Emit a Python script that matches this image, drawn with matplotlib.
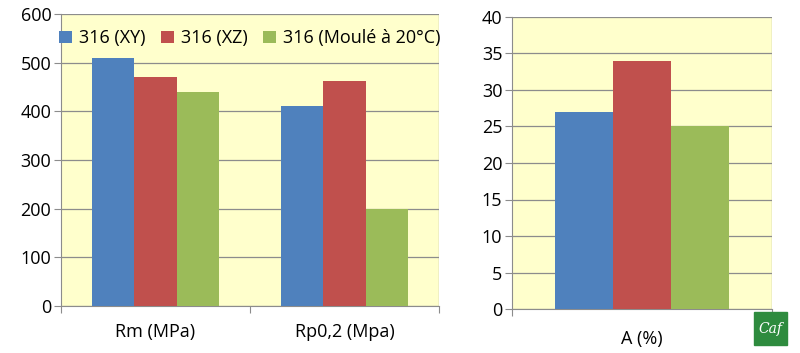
import numpy as np
import matplotlib
matplotlib.use("Agg")
import matplotlib.pyplot as plt
from matplotlib.patches import Rectangle

plt.rcParams['font.family'] = ['Open Sans', 'DejaVu Sans']

# data
series = ['316 (XY)', '316 (XZ)', '316 (Moulé à 20°C)']
colors = ['#4F81BD', '#C0504D', '#9BBB59']
left_cats = ['Rm (MPa)', 'Rp0,2 (Mpa)']
left_vals = [[510, 410], [470, 462], [440, 200]]
right_cats = ['A (%)']
right_vals = [[27], [34], [25]]

bg = '#FFFFCC'
grid_c = '#8C8C8C'
fs = 13

fig = plt.figure(figsize=(8, 3.53), dpi=100)
W, H = 800, 353


def px_axes(x0, x1, y0, y1):
    return fig.add_axes([x0 / W, 1 - y1 / H, (x1 - x0) / W, (y1 - y0) / H])


def draw(ax, cats, vals, ymax, step, xpad):
    n = len(cats)
    x = np.arange(n)
    w = 0.667 / len(vals)
    for i, v in enumerate(vals):
        ax.bar(x + (i - 1) * w, v, width=w, color=colors[i], label=series[i],
               zorder=3)
    ax.set_facecolor(bg)
    ax.set_xlim(-0.5, n - 0.5)
    ax.set_ylim(0, ymax)
    ax.set_yticks(np.arange(0, ymax + 1, step))
    ax.yaxis.grid(True, color=grid_c, linewidth=0.9, zorder=1)
    ax.set_xticks(np.arange(-0.5, n, 1.0))
    ax.set_xticklabels([])
    ax.set_xticks(x, minor=True)
    ax.set_xticklabels(cats, minor=True)
    ax.tick_params(axis='x', which='minor', length=0, pad=xpad, labelsize=fs)
    ax.tick_params(axis='x', which='major', length=5, color=grid_c)
    ax.tick_params(axis='y', length=5, color=grid_c, labelsize=fs, pad=2)
    for s in ['top', 'right']:
        ax.spines[s].set_visible(False)
    for s in ['left', 'bottom']:
        ax.spines[s].set_color(grid_c)
    # right border of plot area
    ax.axvline(n - 0.5, color=grid_c, linewidth=0.9, zorder=2)


ax1 = px_axes(61, 439, 14, 306)
draw(ax1, left_cats, left_vals, 600, 100, 12)
ax1.legend(loc='upper center', bbox_to_anchor=(0.5, 0.985), ncol=3, frameon=False,
           fontsize=fs, handlelength=0.7, handleheight=0.7, handletextpad=0.4,
           columnspacing=0.85, borderaxespad=0.2)

ax2 = px_axes(512, 772, 17, 309)
draw(ax2, right_cats, right_vals, 40, 5, 15)

# logo
fig.patches.append(Rectangle((754 / W, 1 - 345 / H), 33 / W, 33 / H,
                             transform=fig.transFigure, color='#2E8B3E'))
fig.text(770 / W, 1 - 329 / H, 'Caf', color='white', fontsize=10, style='italic',
         ha='center', va='center', family='DejaVu Serif')

fig.savefig('out.png', dpi=100)
